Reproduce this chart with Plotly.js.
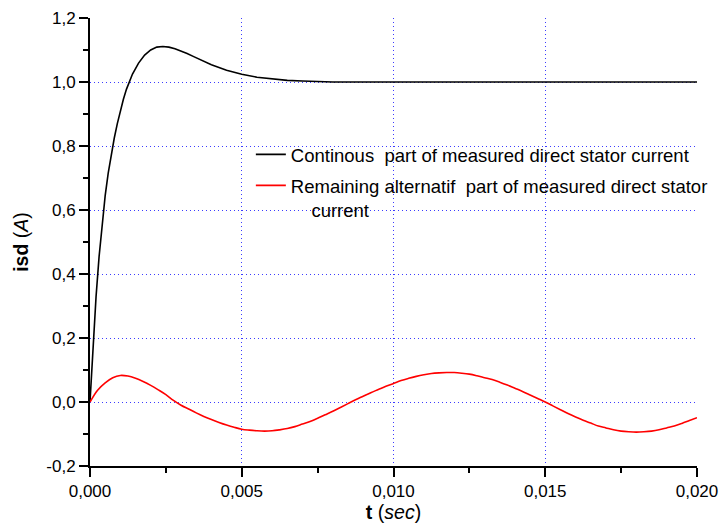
<!DOCTYPE html>
<html>
<head>
<meta charset="utf-8">
<script src="https://cdn.plot.ly/plotly-3.0.1.min.js"></script>
<style>
  html, body { margin: 0; padding: 0; background: #ffffff; }
  #chart { width: 720px; height: 527px; }
</style>
</head>
<body>
<div id="chart"></div>
<script>
// Time samples (sec) for the continuous part
const tContinuous = [0, 0.0001, 0.0002, 0.0003, 0.0004, 0.0005, 0.0006, 0.0007, 0.0008, 0.0009, 0.001,
  0.0011, 0.0012, 0.0013, 0.0014, 0.0016, 0.0018, 0.002, 0.0022, 0.0024, 0.0026, 0.0028, 0.003,
  0.0032, 0.0034, 0.0036, 0.0038, 0.004, 0.0045, 0.005, 0.0055, 0.006, 0.0065, 0.007, 0.0075, 0.008,
  0.009, 0.010, 0.012, 0.014, 0.016, 0.018, 0.020];
// Continuous part of measured direct stator current (A)
const isdContinuous = [0, 0.17, 0.33, 0.455, 0.56, 0.645, 0.715, 0.775, 0.825, 0.870, 0.910,
  0.946, 0.977, 1.003, 1.025, 1.059, 1.084, 1.100, 1.109, 1.111, 1.109, 1.104, 1.097,
  1.089, 1.080, 1.071, 1.062, 1.054, 1.037, 1.024, 1.015, 1.009, 1.005, 1.003, 1.001, 1.000,
  1.000, 1.000, 1.000, 1.000, 1.000, 1.000, 1.000];

// Time samples (sec) for the remaining alternating part
const tAlternating = [0, 0.00025, 0.0005, 0.00075, 0.001, 0.00125, 0.0015, 0.00175, 0.002, 0.00225,
  0.0025, 0.00275, 0.003, 0.00325, 0.0035, 0.00375, 0.004, 0.00425, 0.0045, 0.00475, 0.005,
  0.00525, 0.0055, 0.00575, 0.006, 0.00625, 0.0065, 0.00675, 0.007, 0.00725, 0.0075, 0.00775,
  0.008, 0.00825, 0.0085, 0.00875, 0.009, 0.00925, 0.0095, 0.00975, 0.010, 0.01025, 0.0105,
  0.01075, 0.011, 0.01125, 0.0115, 0.01175, 0.012, 0.01225, 0.0125, 0.01275, 0.013, 0.01325,
  0.0135, 0.01375, 0.014, 0.01425, 0.0145, 0.01475, 0.015, 0.01525, 0.0155, 0.01575, 0.016,
  0.01625, 0.0165, 0.01675, 0.017, 0.01725, 0.0175, 0.01775, 0.018, 0.01825, 0.0185, 0.01875,
  0.019, 0.01925, 0.0195, 0.01975, 0.020];
// Remaining alternating part of measured direct stator current (A)
const isdAlternating = [0, 0.037, 0.060, 0.076, 0.083, 0.081, 0.074, 0.064, 0.052, 0.038,
  0.023, 0.005, -0.010, -0.022, -0.034, -0.045, -0.055, -0.064, -0.072, -0.079, -0.085,
  -0.088, -0.090, -0.091, -0.090, -0.087, -0.083, -0.077, -0.069, -0.061, -0.051, -0.040,
  -0.029, -0.017, -0.005, 0.007, 0.018, 0.029, 0.039, 0.049, 0.058, 0.067, 0.074,
  0.080, 0.085, 0.089, 0.091, 0.092, 0.092, 0.090, 0.087, 0.082, 0.076, 0.070,
  0.062, 0.053, 0.043, 0.033, 0.022, 0.011, 0.000, -0.012, -0.024, -0.036, -0.047,
  -0.057, -0.066, -0.075, -0.081, -0.087, -0.091, -0.093, -0.094, -0.093, -0.091, -0.087,
  -0.081, -0.075, -0.067, -0.058, -0.049];

const seriesNames = [
  "Continous\u00a0 part of measured direct stator current",
  "Remaining alternatif\u00a0 part of measured direct stator<br>\u00a0\u00a0\u00a0\u00a0current"
];
const yTickVals = [-0.2, 0.0, 0.2, 0.4, 0.6, 0.8, 1.0, 1.2];
const yTickLabels = ["-0,2", "0,0", "0,2", "0,4", "0,6", "0,8", "1,0", "1,2"];
const xTickFormat = ".3f";

const font = "Liberation Sans, Arial, Helvetica, sans-serif";
const gridColor = "rgb(60,60,255)";

const traces = [
  { x: tContinuous, y: isdContinuous, type: "scatter", mode: "lines", name: seriesNames[0],
    line: { color: "#000000", width: 1.6 }, legendgroup: "a" },
  { x: tAlternating, y: isdAlternating, type: "scatter", mode: "lines", name: seriesNames[1],
    line: { color: "#ff0000", width: 1.6, shape: "spline", smoothing: 1 }, legendgroup: "b" }
];

const axisCommon = {
  showline: true, linecolor: "#000000", linewidth: 2,
  ticks: "outside", ticklen: 9, tickwidth: 2, tickcolor: "#000000",
  showgrid: true, gridcolor: gridColor, gridwidth: 1, griddash: "1px,3px",
  zeroline: false, mirror: false, automargin: false,
  tickfont: { family: font, size: 17, color: "#000000" }
};

const layout = {
  width: 720, height: 527,
  margin: { l: 90, r: 23, t: 18, b: 61, autoexpand: false },
  paper_bgcolor: "#ffffff", plot_bgcolor: "#ffffff",
  separators: ", ",
  showlegend: true,
  legend: {
    x: 0.265, y: 0.737, xanchor: "left", yanchor: "top",
    bgcolor: "rgba(0,0,0,0)", borderwidth: 0,
    font: { family: font, size: 18.5, color: "#000000" },
    valign: "top", tracegroupgap: 4
  },
  xaxis: Object.assign({}, axisCommon, {
    range: [0, 0.02], dtick: 0.005, tick0: 0, tickformat: xTickFormat,
    minor: { dtick: 0.0025, ticks: "outside", ticklen: 5, tickwidth: 2, tickcolor: "#000000", showgrid: false },
    title: { text: "<b>t</b> (<i>sec</i>)", font: { family: font, size: 19.5, color: "#000000" }, standoff: 4 }
  }),
  yaxis: Object.assign({}, axisCommon, {
    range: [-0.2, 1.2], tickmode: "array", tickvals: yTickVals, ticktext: yTickLabels,
    minor: { dtick: 0.1, tick0: 0, ticks: "outside", ticklen: 5, tickwidth: 2, tickcolor: "#000000", showgrid: false },
    title: { text: "<b>isd</b> (<i>A</i>)", font: { family: font, size: 19.5, color: "#000000" }, standoff: 12 }
  })
};

Plotly.newPlot("chart", traces, layout, { staticPlot: true, displayModeBar: false });
</script>
</body>
</html>
